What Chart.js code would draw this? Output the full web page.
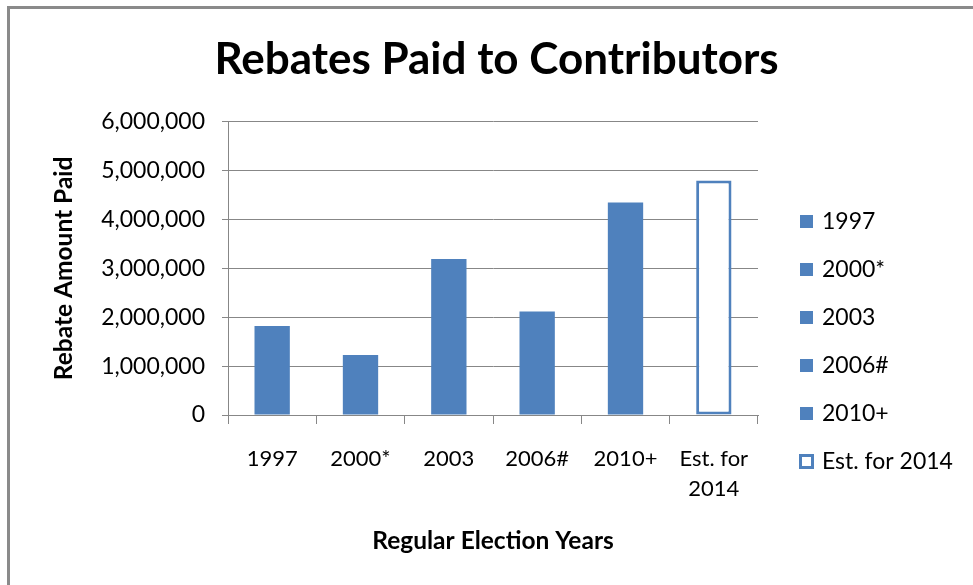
<!DOCTYPE html>
<html lang="en">

<head>
    <meta charset="UTF-8">
    <title>Rebates Paid to Contributors</title>
    <script src="https://cdn.jsdelivr.net/npm/chart.js"></script>
    <style>
        body { margin: 0; background: #fff; }
        .frame {
            position: absolute; left: 7px; top: 6px; width: 990px; height: 600px;
            border-left: 3px solid #8a8a8a; border-top: 3px solid #8a8a8a;
        }
        .chart-box { position: absolute; left: 0; top: 0; width: 973px; height: 585px; }
    </style>
</head>

<body>
    <div class="frame"></div>
    <div class="chart-box">
        <canvas id="chart1"></canvas>
    </div>

<script>
    // dados
    const categorias = ['1997', '2000*', '2003', '2006#', '2010+', 'Est. for 2014'];
    const rotulosX = ['1997', '2000*', '2003', '2006#', '2010+', ['Est. for', '2014']];
    const valores = [1820000, 1230000, 3190000, 2120000, 4350000, 4800000];
    const estimado = [false, false, false, false, false, true];
    const yMax = 6000000;
    const yPasso = 1000000;

    const corBarra = '#4F81BD';
    const corGrade = '#878787';

    // legenda na direita, um item por categoria
    const legendaDireita = {
        id: 'legendaDireita',
        afterDraw(chart) {
            const ctx = chart.ctx;
            ctx.save();
            ctx.font = '23px Lato';
            ctx.textBaseline = 'middle';
            for (let i = 0; i < categorias.length; i++) {
                const y = 221 + i * 48;
                if (estimado[i]) {
                    ctx.fillStyle = '#fff';
                    ctx.fillRect(799, y - 7, 15, 15);
                    ctx.strokeStyle = corBarra;
                    ctx.lineWidth = 3;
                    ctx.strokeRect(800.5, y - 5.5, 12, 12);
                } else {
                    ctx.fillStyle = corBarra;
                    ctx.fillRect(800, y - 6, 13, 13);
                }
                ctx.fillStyle = '#000';
                ctx.fillText(categorias[i], 822, y + 1);
            }
            ctx.restore();
        }
    };

    new Chart(document.getElementById('chart1'), {
        type: 'bar',
        data: {
            labels: rotulosX,
            datasets: [{
                label: 'Rebate Amount Paid',
                data: valores,
                backgroundColor: estimado.map(e => e ? '#fff' : corBarra),
                borderColor: corBarra,
                borderWidth: estimado.map(e => e ? 3 : 0),
                borderSkipped: false,
                barPercentage: 0.4,
                categoryPercentage: 1
            }]
        },
        options: {
            responsive: true,
            maintainAspectRatio: false,
            animation: false,
            layout: { padding: { left: 20, right: 0, top: 0, bottom: 0 } },
            plugins: {
                legend: { display: false },
                tooltip: { enabled: false },
                title: {
                    display: true,
                    text: 'Rebates Paid to Contributors',
                    color: '#000',
                    font: { family: 'Lato', size: 44, weight: 'bold', lineHeight: 1.2 },
                    padding: { top: 33, bottom: 36 }
                }
            },
            scales: {
                x: {
                    afterFit(scale) { scale.height = 170; },
                    grid: {
                        drawOnChartArea: false,
                        drawTicks: true,
                        tickLength: 9,
                        offset: true,
                        color: corGrade
                    },
                    border: { display: true, color: corGrade },
                    ticks: {
                        color: '#000',
                        padding: 20,
                        maxRotation: 0,
                        font: { family: 'Lato', size: 22, lineHeight: 1.36 }
                    },
                    title: {
                        display: true,
                        text: 'Regular Election Years',
                        color: '#000',
                        font: { family: 'Lato', size: 24.5, weight: 'bold', lineHeight: 1.2 },
                        padding: { top: 0, bottom: 29 }
                    }
                },
                y: {
                    min: 0,
                    max: yMax,
                    afterFit(scale) { scale.width = 208; },
                    grid: { color: corGrade, tickLength: 6 },
                    border: { display: true, color: corGrade },
                    ticks: {
                        stepSize: yPasso,
                        color: '#000',
                        padding: 17,
                        font: { family: 'Lato', size: 23 },
                        callback: v => v.toLocaleString('en-US')
                    },
                    title: {
                        display: true,
                        text: 'Rebate Amount Paid',
                        color: '#000',
                        font: { family: 'Lato', size: 24.5, weight: 'bold', lineHeight: 1.2 },
                        padding: { top: 29, bottom: 0 }
                    }
                },
                // eixo vazio na direita so para reservar o espaco da legenda
                espaco: {
                    type: 'linear',
                    position: 'right',
                    display: true,
                    afterFit(scale) { scale.width = 215; },
                    grid: { display: false },
                    border: { display: false },
                    ticks: { display: false }
                }
            }
        },
        plugins: [legendaDireita]
    });
</script>
</body>

</html>
